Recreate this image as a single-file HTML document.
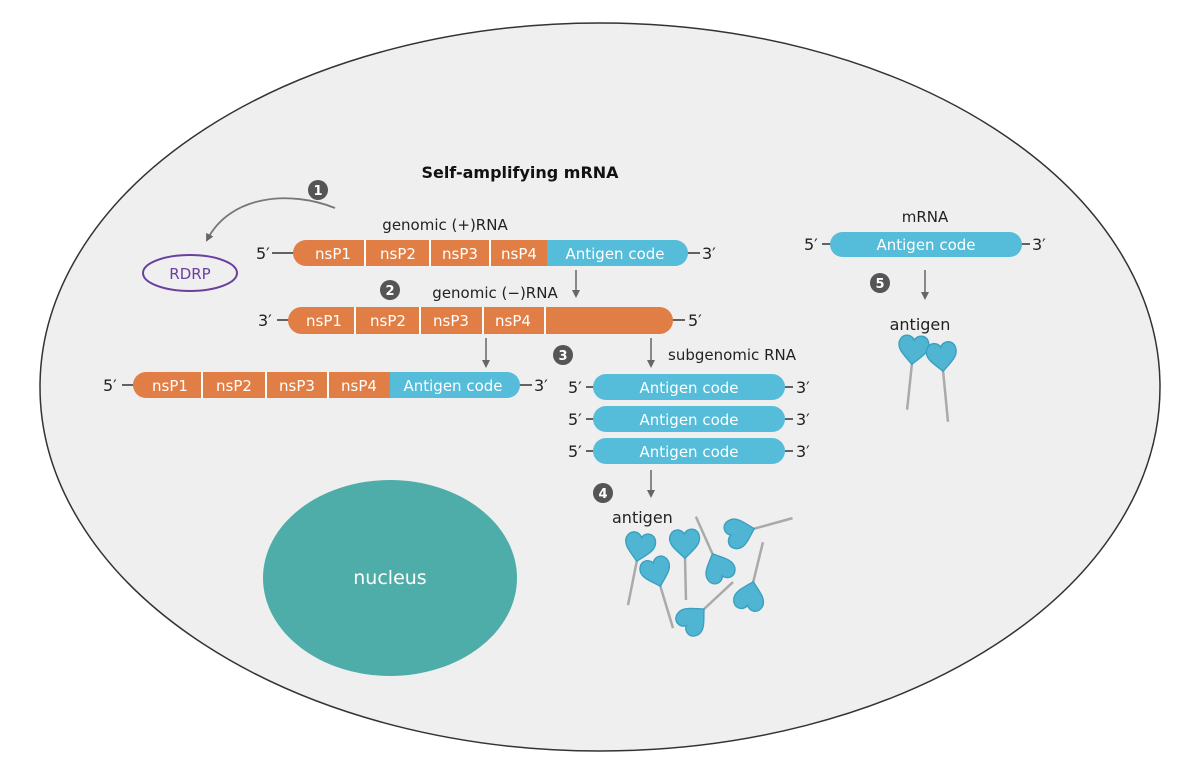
<!DOCTYPE html>
<html><head><meta charset="utf-8"><style>
html,body{margin:0;padding:0;background:#fff}
svg{display:block}
text{font-family:"DejaVu Sans","Liberation Sans",sans-serif}
</style></head><body>
<svg width="1200" height="763" viewBox="0 0 1200 763" xmlns="http://www.w3.org/2000/svg">
<defs>
<marker id="ah" markerWidth="8" markerHeight="8" refX="6" refY="4" orient="auto" markerUnits="userSpaceOnUse">
<path d="M0,0 L8,4 L0,8 Z" fill="#666"/></marker>
<g id="ag">
<path transform="scale(1.35)" d="M0,1 C-6,-5 -12,-9 -11,-15 C-9,-22 -2,-21 0,-17 C2,-22 10,-22 11,-15 C12,-9 6,-5 0,1Z" fill="#4fb5d3" stroke="#3a9fc0" stroke-width="1"/>
</g>
</defs>
<rect width="1200" height="763" fill="#fff"/>
<ellipse cx="600" cy="387" rx="560" ry="364" fill="#efefef" stroke="#333" stroke-width="1.5"/>
<text x="520" y="178" font-size="16" font-weight="bold" text-anchor="middle" fill="#111">Self-amplifying mRNA</text>

<g font-size="13" font-weight="bold" fill="#fff" text-anchor="middle">
<circle cx="318" cy="190" r="10" fill="#555"/><text x="318" y="195">1</text>
<circle cx="390" cy="290" r="10" fill="#555"/><text x="390" y="295">2</text>
<circle cx="563" cy="355" r="10" fill="#555"/><text x="563" y="360">3</text>
<circle cx="603" cy="493" r="10" fill="#555"/><text x="603" y="498">4</text>
<circle cx="880" cy="283" r="10" fill="#555"/><text x="880" y="288">5</text>
</g>

<path d="M335,208 C290,190 230,195 207,240" fill="none" stroke="#777" stroke-width="1.8" marker-end="url(#ah)"/>
<ellipse cx="190" cy="273" rx="47" ry="18" fill="none" stroke="#6b3fa0" stroke-width="2"/>
<text x="190" y="279" font-size="15" fill="#6b3fa0" text-anchor="middle">RDRP</text>

<g font-size="15" fill="#222">
<text x="445" y="230" text-anchor="middle">genomic (+)RNA</text>
<text x="495" y="298" text-anchor="middle">genomic (−)RNA</text>
<text x="668" y="360">subgenomic RNA</text>
<text x="925" y="222" text-anchor="middle">mRNA</text>
<text x="612" y="523" font-size="16">antigen</text>
<text x="920" y="330" text-anchor="middle" font-size="16">antigen</text>
</g>

<g>
<line x1="272" y1="253" x2="295" y2="253" stroke="#333" stroke-width="1.5"/>
<line x1="680" y1="253" x2="700" y2="253" stroke="#333" stroke-width="1.5"/>
<text x="256" y="259" font-size="16" fill="#222">5′</text><text x="702" y="259" font-size="16" fill="#222">3′</text>
<rect x="293" y="240" width="270" height="26" rx="13" fill="#e07e45"/>
<rect x="547" y="240" width="141" height="26" rx="13" fill="#55bcd9"/>
<rect x="547" y="240" width="20" height="26" fill="#55bcd9"/>
<g stroke="#fff" stroke-width="2"><line x1="365" y1="240" x2="365" y2="266"/><line x1="430" y1="240" x2="430" y2="266"/><line x1="490" y1="240" x2="490" y2="266"/></g>
<g font-size="15" fill="#fff" text-anchor="middle"><text x="333" y="259">nsP1</text><text x="398" y="259">nsP2</text><text x="460" y="259">nsP3</text><text x="519" y="259">nsP4</text><text x="615" y="259">Antigen code</text></g>
</g>

<g>
<line x1="277" y1="320" x2="292" y2="320" stroke="#333" stroke-width="1.5"/>
<line x1="668" y1="320" x2="685" y2="320" stroke="#333" stroke-width="1.5"/>
<text x="258" y="326" font-size="16" fill="#222">3′</text><text x="688" y="326" font-size="16" fill="#222">5′</text>
<rect x="288" y="307" width="385" height="27" rx="13.5" fill="#e07e45"/>
<g stroke="#fff" stroke-width="2"><line x1="355" y1="307" x2="355" y2="334"/><line x1="420" y1="307" x2="420" y2="334"/><line x1="483" y1="307" x2="483" y2="334"/><line x1="545" y1="307" x2="545" y2="334"/></g>
<g font-size="15" fill="#fff" text-anchor="middle"><text x="324" y="326">nsP1</text><text x="388" y="326">nsP2</text><text x="451" y="326">nsP3</text><text x="513" y="326">nsP4</text></g>
</g>

<g>
<line x1="122" y1="385" x2="137" y2="385" stroke="#333" stroke-width="1.5"/>
<line x1="515" y1="385" x2="532" y2="385" stroke="#333" stroke-width="1.5"/>
<text x="103" y="391" font-size="16" fill="#222">5′</text><text x="534" y="391" font-size="16" fill="#222">3′</text>
<rect x="133" y="372" width="280" height="26" rx="13" fill="#e07e45"/>
<rect x="390" y="372" width="130" height="26" rx="13" fill="#55bcd9"/>
<rect x="390" y="372" width="20" height="26" fill="#55bcd9"/>
<g stroke="#fff" stroke-width="2"><line x1="202" y1="372" x2="202" y2="398"/><line x1="266" y1="372" x2="266" y2="398"/><line x1="328" y1="372" x2="328" y2="398"/></g>
<g font-size="15" fill="#fff" text-anchor="middle"><text x="170" y="391">nsP1</text><text x="234" y="391">nsP2</text><text x="297" y="391">nsP3</text><text x="359" y="391">nsP4</text><text x="453" y="391">Antigen code</text></g>
</g>

<g>
<g stroke="#333" stroke-width="1.5">
<line x1="586" y1="387" x2="598" y2="387"/><line x1="780" y1="387" x2="793" y2="387"/>
<line x1="586" y1="419" x2="598" y2="419"/><line x1="780" y1="419" x2="793" y2="419"/>
<line x1="586" y1="451" x2="598" y2="451"/><line x1="780" y1="451" x2="793" y2="451"/>
</g>
<rect x="593" y="374" width="192" height="26" rx="13" fill="#55bcd9"/>
<rect x="593" y="406" width="192" height="26" rx="13" fill="#55bcd9"/>
<rect x="593" y="438" width="192" height="26" rx="13" fill="#55bcd9"/>
<g font-size="16" fill="#222"><text x="568" y="393">5′</text><text x="796" y="393">3′</text><text x="568" y="425">5′</text><text x="796" y="425">3′</text><text x="568" y="457">5′</text><text x="796" y="457">3′</text></g>
<g font-size="15" fill="#fff" text-anchor="middle"><text x="689" y="393">Antigen code</text><text x="689" y="425">Antigen code</text><text x="689" y="457">Antigen code</text></g>
</g>

<g>
<line x1="822" y1="244" x2="836" y2="244" stroke="#333" stroke-width="1.5"/>
<line x1="1018" y1="244" x2="1030" y2="244" stroke="#333" stroke-width="1.5"/>
<text x="804" y="250" font-size="16" fill="#222">5′</text><text x="1032" y="250" font-size="16" fill="#222">3′</text>
<rect x="830" y="232" width="192" height="25" rx="12.5" fill="#55bcd9"/>
<text x="926" y="250" font-size="15" fill="#fff" text-anchor="middle">Antigen code</text>
</g>

<g stroke="#666" stroke-width="1.5" marker-end="url(#ah)">
<line x1="576" y1="270" x2="576" y2="296"/>
<line x1="486" y1="338" x2="486" y2="366"/>
<line x1="651" y1="338" x2="651" y2="366"/>
<line x1="651" y1="470" x2="651" y2="496"/>
<line x1="925" y1="270" x2="925" y2="298"/>
</g>

<ellipse cx="390" cy="578" rx="127" ry="98" fill="#4eada8"/>
<text x="390" y="584" font-size="19" fill="#fff" text-anchor="middle">nucleus</text>

<g>
<g transform="translate(637,560) rotate(11.3)"><line x1="0" y1="0" x2="0" y2="46" stroke="#aaa" stroke-width="2.5"/><use href="#ag"/></g>
<g transform="translate(660,585) rotate(-16.8)"><line x1="0" y1="0" x2="0" y2="45" stroke="#aaa" stroke-width="2.5"/><use href="#ag"/></g>
<g transform="translate(685,557) rotate(-1.3)"><line x1="0" y1="0" x2="0" y2="43" stroke="#aaa" stroke-width="2.5"/><use href="#ag"/></g>
<g transform="translate(713,555) rotate(155.9)"><line x1="0" y1="0" x2="0" y2="42" stroke="#aaa" stroke-width="2.5"/><use href="#ag"/></g>
<g transform="translate(753,529) rotate(-105.4)"><line x1="0" y1="0" x2="0" y2="41" stroke="#aaa" stroke-width="2.5"/><use href="#ag"/></g>
<g transform="translate(753,583) rotate(-166.3)"><line x1="0" y1="0" x2="0" y2="42" stroke="#aaa" stroke-width="2.5"/><use href="#ag"/></g>
<g transform="translate(703,610) rotate(-133)"><line x1="0" y1="0" x2="0" y2="41" stroke="#aaa" stroke-width="2.5"/><use href="#ag"/></g>
<g transform="translate(912,363) rotate(6)"><line x1="0" y1="0" x2="0" y2="47" stroke="#aaa" stroke-width="2.5"/><use href="#ag"/></g>
<g transform="translate(943,370) rotate(-5.5)"><line x1="0" y1="0" x2="0" y2="52" stroke="#aaa" stroke-width="2.5"/><use href="#ag"/></g>
</g>
</svg>
</body></html>
